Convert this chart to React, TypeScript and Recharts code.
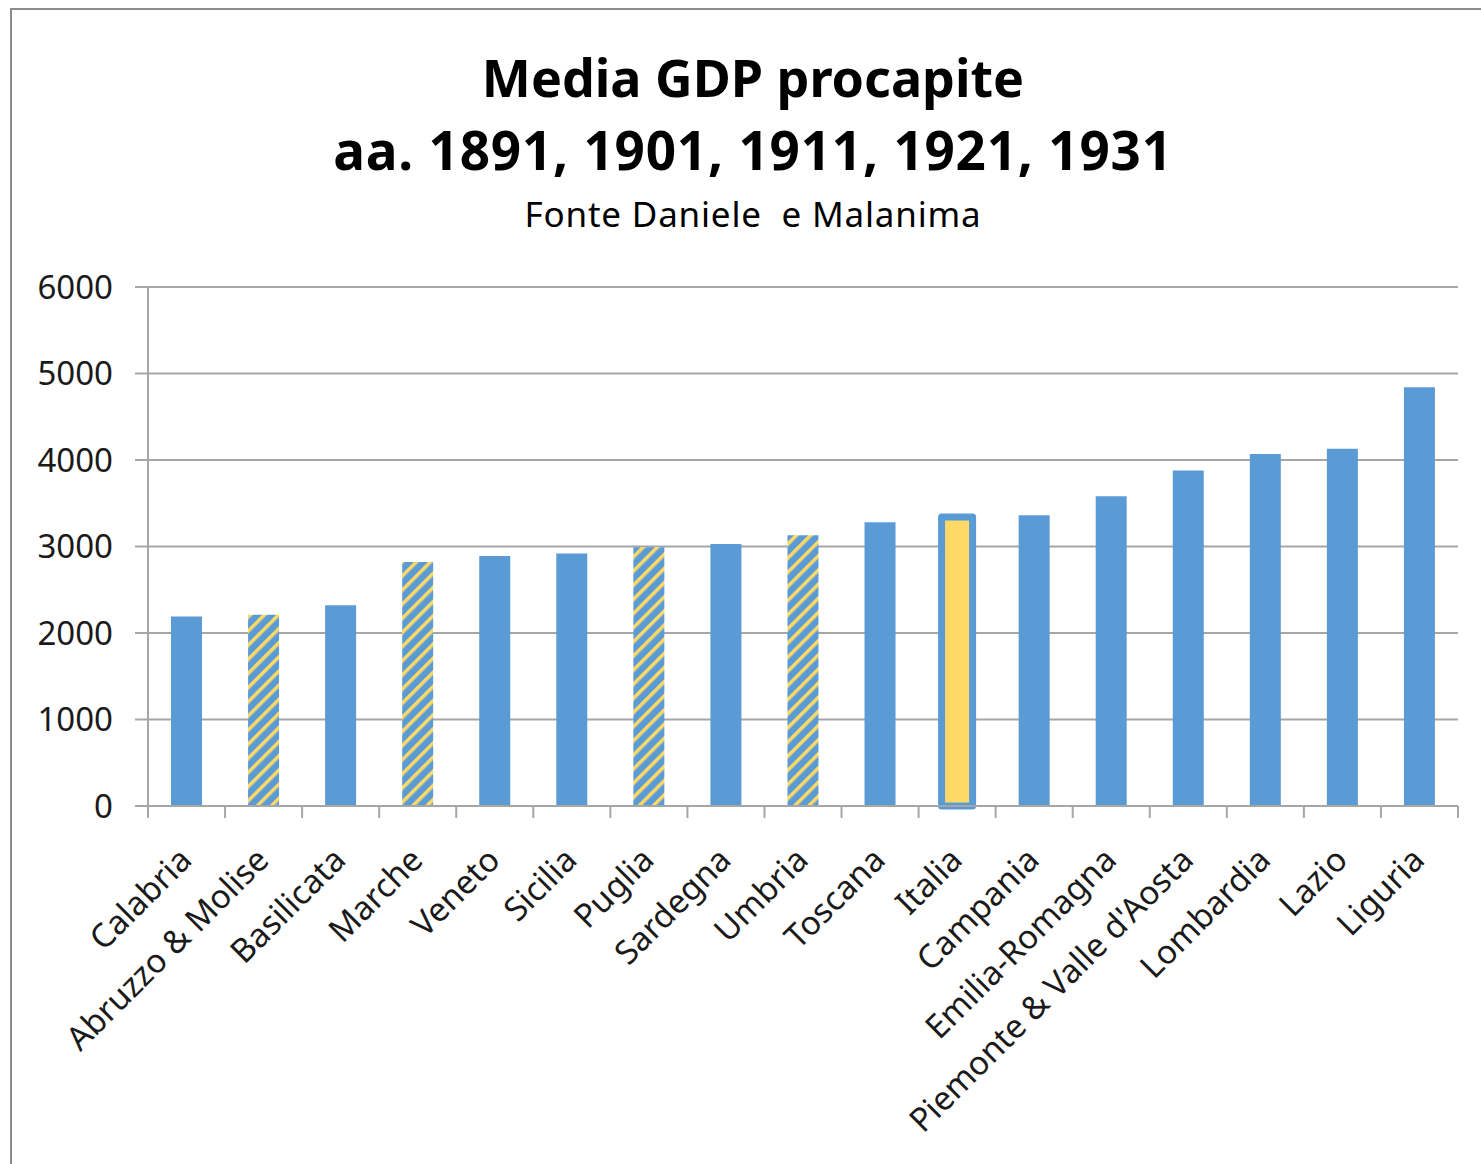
import { BarChart, Bar, Cell, XAxis, YAxis, CartesianGrid } from 'recharts';

const regions = [
  'Calabria',
  'Abruzzo & Molise',
  'Basilicata',
  'Marche',
  'Veneto',
  'Sicilia',
  'Puglia',
  'Sardegna',
  'Umbria',
  'Toscana',
  'Italia',
  'Campania',
  'Emilia-Romagna',
  "Piemonte & Valle d'Aosta",
  'Lombardia',
  'Lazio',
  'Liguria',
];

const gdp = [2190, 2210, 2320, 2820, 2890, 2920, 2990, 3030, 3130, 3280, 3340, 3360, 3580, 3880, 4070, 4130, 4840];

// regions drawn with the striped fill
const hatched = ['Abruzzo & Molise', 'Marche', 'Puglia', 'Umbria'];
const highlight = 'Italia';

const yTicks = [0, 1000, 2000, 3000, 4000, 5000, 6000];

const data = regions.map((region, i) => ({ region, gdp: gdp[i] }));

const BLUE = '#5b9bd5';
const YELLOW = '#ffd966';
const GRID = '#a6a6a6';
const FONT = '"Noto Sans", "Open Sans", sans-serif';

const W = 1481;
const H = 1164;
const LEFT = 148;
const RIGHT = 23;
const PLOT_W = W - LEFT - RIGHT;

function CategoryTick(props: any) {
  const { x, y, payload } = props;
  const step = PLOT_W / regions.length;
  const isLast = payload.value === regions[regions.length - 1];
  const tx = x + 7;
  const ty = y + 56;
  return (
    <g>
      <line x1={x - step / 2} x2={x - step / 2} y1={y} y2={y + 12} stroke={GRID} strokeWidth={2} />
      {isLast && <line x1={x + step / 2} x2={x + step / 2} y1={y} y2={y + 12} stroke={GRID} strokeWidth={2} />}
      <text
        x={tx}
        y={ty}
        textAnchor="end"
        transform={`rotate(-45, ${tx}, ${ty})`}
        fontFamily={FONT}
        fontSize={33}
        fill="#1a1a1a"
      >
        {payload.value}
      </text>
    </g>
  );
}

export default function App() {
  return (
    <div style={{ position: 'absolute', left: 0, top: 0, width: W, height: H, background: '#fff', overflow: 'hidden' }}>
      <div
        style={{
          position: 'absolute',
          left: 10,
          top: 8,
          width: W,
          height: H,
          borderLeft: '2px solid #8c8c8c',
          borderTop: '2px solid #8c8c8c',
        }}
      />
      <svg width={W} height={260} style={{ position: 'absolute', left: 0, top: 0 }}>
        <text x={753} y={97} textAnchor="middle" fontFamily={FONT} fontWeight="bold" fontSize={52} fill="#000">
          Media GDP procapite
        </text>
        <text
          x={753}
          y={170}
          textAnchor="middle"
          fontFamily={FONT}
          fontWeight="bold"
          fontSize={53}
          letterSpacing={0.8}
          fill="#000"
        >
          aa. 1891, 1901, 1911, 1921, 1931
        </text>
        <text
          x={753}
          y={227}
          textAnchor="middle"
          fontFamily={FONT}
          fontSize={35}
          letterSpacing={0.8}
          fill="#000"
          xmlSpace="preserve"
        >
          Fonte Daniele  e Malanima
        </text>
      </svg>
      <div style={{ position: 'absolute', left: 0, top: 0 }}>
        <BarChart width={W} height={H} data={data} margin={{ top: 287, right: RIGHT, bottom: 0, left: 0 }} barSize={31}>
          <defs>
            <pattern id="hatch" width="10" height="10" patternUnits="userSpaceOnUse" patternTransform="rotate(45)">
              <rect width="10" height="10" fill={BLUE} />
              <rect width="3.5" height="10" fill={YELLOW} />
            </pattern>
          </defs>
          <CartesianGrid vertical={false} stroke={GRID} strokeWidth={2} />
          <XAxis
            dataKey="region"
            interval={0}
            height={358}
            tickLine={false}
            tickSize={0}
            tickMargin={0}
            axisLine={{ stroke: GRID, strokeWidth: 2 }}
            tick={<CategoryTick />}
          />
          <YAxis
            domain={[0, 6000]}
            ticks={yTicks}
            width={LEFT}
            tickSize={13}
            tickMargin={22}
            axisLine={{ stroke: GRID, strokeWidth: 2 }}
            tickLine={{ stroke: GRID, strokeWidth: 2 }}
            tick={{ fontFamily: FONT, fontSize: 33, fill: '#1a1a1a' }}
          />
          <Bar dataKey="gdp" isAnimationActive={false}>
            {data.map((d) => (
              <Cell
                key={d.region}
                fill={d.region === highlight ? YELLOW : hatched.includes(d.region) ? 'url(#hatch)' : BLUE}
                stroke={d.region === highlight ? BLUE : 'none'}
                strokeWidth={d.region === highlight ? 7 : 0}
                strokeLinejoin="round"
              />
            ))}
          </Bar>
        </BarChart>
      </div>
    </div>
  );
}
